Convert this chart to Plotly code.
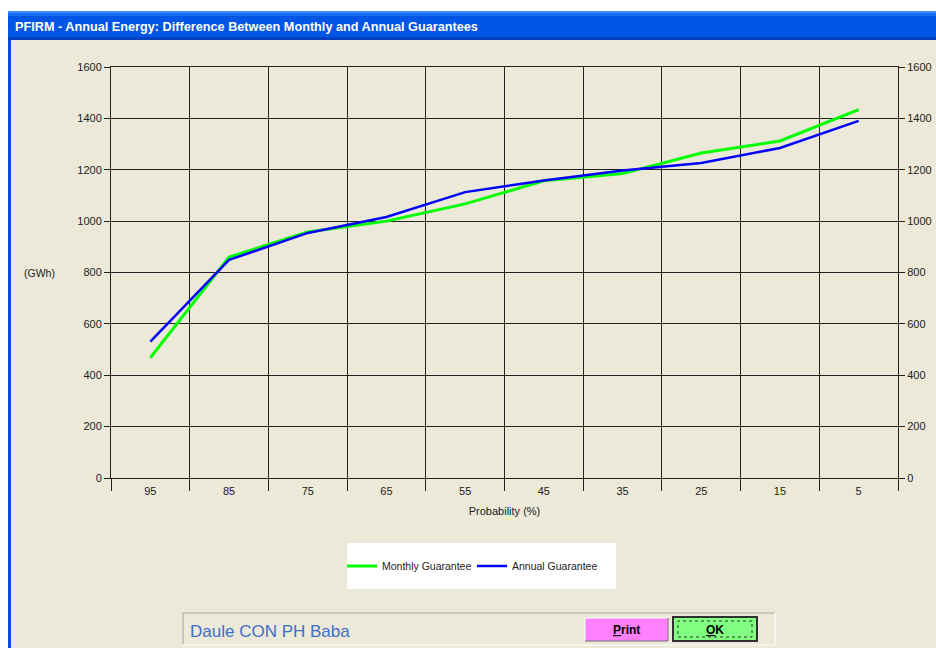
import plotly.graph_objects as go

# probability of exceedance (%) shown as categories
probability = ["95", "85", "75", "65", "55", "45", "35", "25", "15", "5"]
monthly_guarantee = [468, 860, 958, 1000, 1067, 1157, 1185, 1265, 1312, 1434]
annual_guarantee = [531, 849, 954, 1016, 1113, 1158, 1197, 1226, 1285, 1390]

y_ticks = [0, 200, 400, 600, 800, 1000, 1200, 1400, 1600]

W, H = 936, 648
BEIGE = "#ECE9D8"
FONT = "Liberation Sans"


def px(x):
    return x / W


def py(y):
    return 1 - y / H


def rect(x0, y0, x1, y1, fill, line=None, width=0, layer="above", dash=None):
    return dict(
        type="rect", xref="paper", yref="paper",
        x0=px(x0), x1=px(x1), y0=py(y1), y1=py(y0),
        fillcolor=fill, layer=layer,
        line=dict(color=line or fill, width=width, dash=dash),
    )


def hline(x0, x1, y, color, width=1):
    return dict(type="line", xref="paper", yref="paper",
                x0=px(x0), x1=px(x1), y0=py(y), y1=py(y),
                line=dict(color=color, width=width), layer="above")


def vline(x, y0, y1, color, width=1):
    return dict(type="line", xref="paper", yref="paper",
                x0=px(x), x1=px(x), y0=py(y0), y1=py(y1),
                line=dict(color=color, width=width), layer="above")


fig = go.Figure()
fig.add_trace(go.Scatter(x=probability, y=monthly_guarantee, mode="lines",
                         name="Monthly Guarantee",
                         line=dict(color="#00FF00", width=3)))
fig.add_trace(go.Scatter(x=probability, y=annual_guarantee, mode="lines",
                         name="Annual Guarantee",
                         line=dict(color="#0000FF", width=2.5)))
# invisible copy so the right hand axis is drawn
fig.add_trace(go.Scatter(x=probability, y=monthly_guarantee, yaxis="y2",
                         mode="lines", opacity=0, showlegend=False,
                         hoverinfo="skip"))

shapes = [
    # window body and frame
    rect(11, 40, W, H, BEIGE, layer="below"),
    rect(8, 40, 11, H, "#0A4BE0", layer="below"),
    # title bar
    rect(8, 11, W, 40, "#0055E5", layer="below"),
    rect(8, 11, W, 13, "#3C8DFF", layer="below"),
    rect(8, 13, W, 16, "#1A6BF5", layer="below"),
    rect(8, 37, W, 40, "#0040C0", layer="below"),
    # legend panel
    rect(347, 543, 616, 589, "white"),
    # status panel
    rect(183, 613, 775, 645, BEIGE),
    hline(183, 775, 613, "#A8A699"), vline(183, 613, 645, "#A8A699"),
    hline(183, 775, 645, "white"), vline(775, 613, 645, "white"),
    # Print button
    rect(585, 618, 668, 641, "#FF80FF"),
    hline(585, 668, 618, "white"), vline(585, 618, 641, "white"),
    hline(585, 668, 641, "#707070"), vline(668, 618, 641, "#707070"),
    # OK button
    rect(673, 617, 757, 641, "#80FF80", line="#303030", width=2),
    rect(678, 621, 752, 637, "rgba(0,0,0,0)", line="#303030", width=1, dash="dot"),
]

annotations = [
    dict(text="<b>PFIRM - Annual Energy: Difference Between Monthly and Annual Guarantees</b>",
         x=px(13), y=py(27), xanchor="left", yanchor="middle",
         font=dict(family=FONT, size=12.7, color="white")),
    dict(text="(GWh)", x=px(39), y=py(273), xanchor="center", yanchor="middle",
         font=dict(family=FONT, size=10.5, color="#222222")),
    dict(text="Daule CON PH Baba", x=px(188), y=py(631), xanchor="left", yanchor="middle",
         font=dict(family=FONT, size=17, color="#3D6FC8")),
    dict(text="<b><u>P</u>rint</b>", x=px(626.5), y=py(629.5), xanchor="center", yanchor="middle",
         font=dict(family=FONT, size=12, color="black")),
    dict(text="<b><u>O</u>K</b>", x=px(715), y=py(629.5), xanchor="center", yanchor="middle",
         font=dict(family=FONT, size=12, color="black")),
]
for a in annotations:
    a.update(xref="paper", yref="paper", showarrow=False)

axis_font = dict(family=FONT, size=11, color="#222222")

fig.update_layout(
    width=W, height=H,
    margin=dict(l=0, r=0, t=0, b=0, pad=0),
    paper_bgcolor="white",
    plot_bgcolor=BEIGE,
    font=axis_font,
    shapes=shapes,
    annotations=annotations,
    showlegend=True,
    legend=dict(orientation="h", x=px(342), y=py(566), xanchor="left", yanchor="middle",
                bgcolor="rgba(0,0,0,0)",
                font=dict(family=FONT, size=10.5, color="#222222"),
                entrywidth=85, entrywidthmode="pixels", itemwidth=30),
    xaxis=dict(
        domain=[px(111), px(898)],
        type="category", categoryorder="array", categoryarray=probability,
        range=[-0.5, len(probability) - 0.5],
        tickson="boundaries", ticks="outside", ticklen=12, tickcolor="#222222",
        ticklabelstandoff=3,
        showgrid=True, gridcolor="#222222", gridwidth=1,
        showline=True, linecolor="#222222", linewidth=1, mirror=True,
        title=dict(text="Probability (%)", font=axis_font, standoff=11),
        automargin=False,
        fixedrange=True,
    ),
    yaxis=dict(
        domain=[py(478), py(67)],
        range=[0, 1600], tickvals=y_ticks,
        ticks="outside", ticklen=6, tickcolor="#222222",
        showgrid=True, gridcolor="#222222", gridwidth=1,
        zeroline=False,
        showline=True, linecolor="#222222", linewidth=1, mirror=True,
        automargin=False,
        fixedrange=True,
    ),
    yaxis2=dict(
        overlaying="y", side="right", anchor="x",
        range=[0, 1600], tickvals=y_ticks,
        ticks="outside", ticklen=6, tickcolor="#222222",
        showgrid=False, zeroline=False, showline=False,
        automargin=False,
        fixedrange=True,
    ),
)

fig.write_html("out.html", config={"displayModeBar": False},
               post_script="document.body.style.margin='0';document.body.style.overflow='hidden';")
